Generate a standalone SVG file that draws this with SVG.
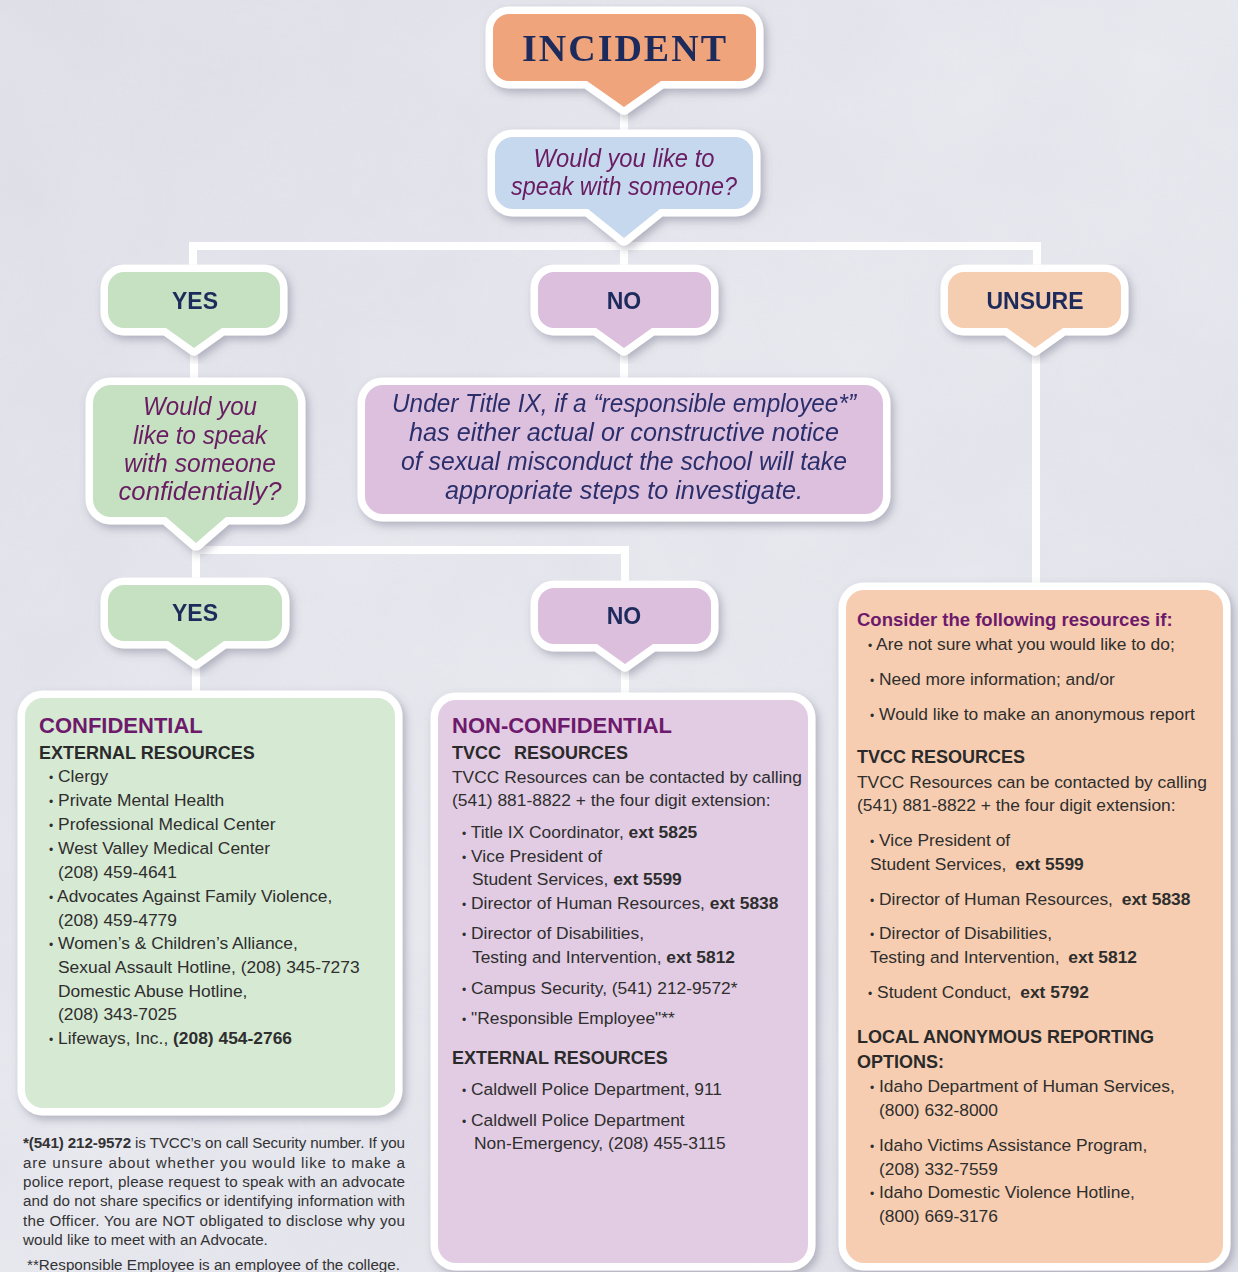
<svg xmlns="http://www.w3.org/2000/svg" width="1238" height="1272" viewBox="0 0 1238 1272">
<defs>
<style>
.lbl{font-family:"Liberation Sans",Arial,sans-serif;font-weight:bold;font-size:23px;fill:#1f2b5c;text-anchor:middle}
.inc{font-family:"Liberation Serif","Times New Roman",serif;font-weight:bold;font-size:38px;letter-spacing:2px;fill:#1f2b5c;text-anchor:middle}
.q{font-family:"Liberation Sans",Arial,sans-serif;font-style:italic;font-size:25px;fill:#6a1d62;text-anchor:middle}
.ti{font-family:"Liberation Sans",Arial,sans-serif;font-style:italic;font-size:25px;fill:#2c2f6b;text-anchor:middle}
.h1{font-family:"Liberation Sans",Arial,sans-serif;font-weight:bold;font-size:22px;fill:#6e1a6c}
.h1s{font-family:"Liberation Sans",Arial,sans-serif;font-weight:bold;font-size:18.5px;fill:#6e1a6c}
.h2{font-family:"Liberation Sans",Arial,sans-serif;font-weight:bold;font-size:18px;fill:#2a2a2a}
.t{font-family:"Liberation Sans",Arial,sans-serif;font-size:17.4px;fill:#2e2e2e}
.b{font-size:12px}
.bd{font-weight:bold}
.fn{font-family:"Liberation Sans",Arial,sans-serif;font-size:15.2px;fill:#333}
.bubble{stroke:#ffffff;stroke-width:15;stroke-linejoin:round;paint-order:stroke}
.conn{stroke:#ffffff;stroke-width:8;fill:none;stroke-linecap:butt}
</style>
<filter id="sh" x="-10%" y="-10%" width="125%" height="130%">
<feDropShadow dx="3" dy="4" stdDeviation="4" flood-color="#5e5e78" flood-opacity="0.4"/>
</filter>
<filter id="tex" x="0" y="0" width="100%" height="100%">
<feTurbulence type="fractalNoise" baseFrequency="0.008" numOctaves="4" seed="7"/>
<feColorMatrix values="0 0 0 0 0.62  0 0 0 0 0.62  0 0 0 0 0.7  0 0 0 0.5 -0.1"/>
</filter>
<linearGradient id="bg" x1="0" y1="0" x2="1" y2="1">
<stop offset="0" stop-color="#e1e1ea"/>
<stop offset="0.5" stop-color="#e9e9f0"/>
<stop offset="1" stop-color="#dfdfe8"/>
</linearGradient>
</defs>

<rect x="0" y="0" width="1238" height="1272" fill="url(#bg)"/>
<rect x="0" y="0" width="1238" height="1272" filter="url(#tex)" opacity="0.5"/>

<g id="connectors">
<line class="conn" x1="624" y1="98" x2="624" y2="140"/>
<line class="conn" x1="624" y1="230" x2="624" y2="246"/>
<line class="conn" x1="189" y1="246" x2="1041" y2="246"/>
<line class="conn" x1="193" y1="242" x2="193" y2="275"/>
<line class="conn" x1="624" y1="242" x2="624" y2="275"/>
<line class="conn" x1="1037" y1="242" x2="1037" y2="275"/>
<line class="conn" x1="194" y1="340" x2="194" y2="388"/>
<line class="conn" x1="624" y1="340" x2="624" y2="388"/>
<line class="conn" x1="1036" y1="340" x2="1036" y2="592"/>
<line class="conn" x1="196" y1="535" x2="196" y2="588"/>
<line class="conn" x1="192" y1="550" x2="629" y2="550"/>
<line class="conn" x1="625" y1="546" x2="625" y2="591"/>
<line class="conn" x1="196" y1="652" x2="196" y2="700"/>
<line class="conn" x1="625" y1="655" x2="625" y2="702"/>
</g>

<g id="incident" filter="url(#sh)">
<path class="bubble" fill="#f0a47c" d="M509,14 H740 A16,16 0 0 1 756,30 V65 A16,16 0 0 1 740,81 H661 L624,107 L587,81 H509 A16,16 0 0 1 493,65 V30 A16,16 0 0 1 509,14 Z"/>
<text class="inc" x="625" y="61">INCIDENT</text>
</g>

<g id="q-speak" filter="url(#sh)">
<path class="bubble" fill="#c6d8ee" d="M513,137 H735 A18,18 0 0 1 753,155 V191 A18,18 0 0 1 735,209 H660 L624,238 L588,209 H513 A18,18 0 0 1 495,191 V155 A18,18 0 0 1 513,137 Z"/>
<text class="q" x="624" y="167" textLength="181" lengthAdjust="spacingAndGlyphs">Would you like to</text>
<text class="q" x="624" y="195" textLength="226" lengthAdjust="spacingAndGlyphs">speak with someone?</text>
</g>

<g id="yes1" filter="url(#sh)">
<path class="bubble" fill="#c5e1c2" d="M124,272 H264 A16,16 0 0 1 280,288 V312 A16,16 0 0 1 264,328 H222 L194,348 L166,328 H124 A16,16 0 0 1 108,312 V288 A16,16 0 0 1 124,272 Z"/>
<text class="lbl" x="195" y="309">YES</text>
</g>

<g id="no1" filter="url(#sh)">
<path class="bubble" fill="#dcbfdd" d="M554,272 H695 A16,16 0 0 1 711,288 V312 A16,16 0 0 1 695,328 H652 L624,348 L596,328 H554 A16,16 0 0 1 538,312 V288 A16,16 0 0 1 554,272 Z"/>
<text class="lbl" x="624" y="309">NO</text>
</g>

<g id="unsure" filter="url(#sh)">
<path class="bubble" fill="#f5cdb0" d="M964,272 H1105 A16,16 0 0 1 1121,288 V312 A16,16 0 0 1 1105,328 H1063 L1035,348 L1007,328 H964 A16,16 0 0 1 948,312 V288 A16,16 0 0 1 964,272 Z"/>
<text class="lbl" x="1035" y="309">UNSURE</text>
</g>

<g id="q-confidential" filter="url(#sh)">
<path class="bubble" fill="#c5e1c2" d="M111,385 H280 A18,18 0 0 1 298,403 V499 A18,18 0 0 1 280,517 H226 L196,543 L166,517 H111 A18,18 0 0 1 93,499 V403 A18,18 0 0 1 111,385 Z"/>
<text class="q" x="200" y="415" textLength="114" lengthAdjust="spacingAndGlyphs">Would you</text>
<text class="q" x="200" y="444" textLength="134" lengthAdjust="spacingAndGlyphs">like to speak</text>
<text class="q" x="200" y="472" textLength="152" lengthAdjust="spacingAndGlyphs">with someone</text>
<text class="q" x="200" y="500" textLength="163" lengthAdjust="spacingAndGlyphs">confidentially?</text>
</g>

<g id="title-ix" filter="url(#sh)">
<rect class="bubble" fill="#dcc0dd" x="365" y="385" width="518" height="129" rx="18"/>
<text class="ti" x="624" y="412" textLength="464" lengthAdjust="spacingAndGlyphs">Under Title IX, if a “responsible employee*”</text>
<text class="ti" x="624" y="441" textLength="430" lengthAdjust="spacingAndGlyphs">has either actual or constructive notice</text>
<text class="ti" x="624" y="470" textLength="446" lengthAdjust="spacingAndGlyphs">of sexual misconduct the school will take</text>
<text class="ti" x="624" y="499" textLength="358" lengthAdjust="spacingAndGlyphs">appropriate steps to investigate.</text>
</g>

<g id="yes2" filter="url(#sh)">
<path class="bubble" fill="#c5e1c2" d="M124,585 H266 A16,16 0 0 1 282,601 V625 A16,16 0 0 1 266,641 H224 L196,661 L168,641 H124 A16,16 0 0 1 108,625 V601 A16,16 0 0 1 124,585 Z"/>
<text class="lbl" x="195" y="621">YES</text>
</g>

<g id="no2" filter="url(#sh)">
<path class="bubble" fill="#dcbfdd" d="M554,588 H695 A16,16 0 0 1 711,604 V628 A16,16 0 0 1 695,644 H653 L625,664 L597,644 H554 A16,16 0 0 1 538,628 V604 A16,16 0 0 1 554,588 Z"/>
<text class="lbl" x="624" y="624">NO</text>
</g>

<g id="confidential">
<rect class="bubble" fill="#d6e9d3" x="25" y="698" width="370" height="410" rx="18" filter="url(#sh)"/>
<text class="h1" x="39" y="733">CONFIDENTIAL</text>
<text class="h2" x="39" y="759">EXTERNAL RESOURCES</text>
<text class="t" x="49" y="782"><tspan class="b">•</tspan> Clergy</text>
<text class="t" x="49" y="806"><tspan class="b">•</tspan> Private Mental Health</text>
<text class="t" x="49" y="830"><tspan class="b">•</tspan> Professional Medical Center</text>
<text class="t" x="49" y="854"><tspan class="b">•</tspan> West Valley Medical Center</text>
<text class="t" x="58" y="878">(208) 459-4641</text>
<text class="t" x="49" y="902"><tspan class="b">•</tspan> Advocates Against Family Violence,</text>
<text class="t" x="58" y="926">(208) 459-4779</text>
<text class="t" x="49" y="949"><tspan class="b">•</tspan> Women’s &amp; Children’s Alliance,</text>
<text class="t" x="58" y="973">Sexual Assault Hotline, (208) 345-7273</text>
<text class="t" x="58" y="997">Domestic Abuse Hotline,</text>
<text class="t" x="58" y="1020">(208) 343-7025</text>
<text class="t" x="49" y="1044"><tspan class="b">•</tspan> Lifeways, Inc., <tspan class="bd">(208) 454-2766</tspan></text>
</g>

<g id="footnote">
<text class="fn" x="23" y="1148" textLength="382" lengthAdjust="spacing"><tspan class="bd">*(541) 212-9572</tspan> is TVCC’s on call Security number. If you</text>
<text class="fn" x="23" y="1168" textLength="382" lengthAdjust="spacing">are unsure about whether you would like to make a</text>
<text class="fn" x="23" y="1187" textLength="382" lengthAdjust="spacing">police report, please request to speak with an advocate</text>
<text class="fn" x="23" y="1206" textLength="382" lengthAdjust="spacing">and do not share specifics or identifying information with</text>
<text class="fn" x="23" y="1226" textLength="382" lengthAdjust="spacing">the Officer. You are NOT obligated to disclose why you</text>
<text class="fn" x="23" y="1245">would like to meet with an Advocate.</text>
<text class="fn" x="27" y="1270" textLength="373" lengthAdjust="spacing">**Responsible Employee is an employee of the college.</text>
</g>

<g id="non-confidential">
<rect class="bubble" fill="#e2cce3" x="438" y="700" width="370" height="563" rx="18" filter="url(#sh)"/>
<text class="h1" x="452" y="733">NON-CONFIDENTIAL</text>
<text class="h2" x="452" y="759">TVCC<tspan x="514">RESOURCES</tspan></text>
<text class="t" x="452" y="783">TVCC Resources can be contacted by calling</text>
<text class="t" x="452" y="806">(541) 881-8822 + the four digit extension:</text>
<text class="t" x="462" y="838"><tspan class="b">•</tspan> Title IX Coordinator, <tspan class="bd">ext 5825</tspan></text>
<text class="t" x="462" y="862"><tspan class="b">•</tspan> Vice President of</text>
<text class="t" x="472" y="885">Student Services, <tspan class="bd">ext 5599</tspan></text>
<text class="t" x="462" y="909"><tspan class="b">•</tspan> Director of Human Resources, <tspan class="bd">ext 5838</tspan></text>
<text class="t" x="462" y="939"><tspan class="b">•</tspan> Director of Disabilities,</text>
<text class="t" x="472" y="963">Testing and Intervention, <tspan class="bd">ext 5812</tspan></text>
<text class="t" x="462" y="994"><tspan class="b">•</tspan> Campus Security, (541) 212-9572*</text>
<text class="t" x="462" y="1024"><tspan class="b">•</tspan> "Responsible Employee"**</text>
<text class="h2" x="452" y="1064">EXTERNAL RESOURCES</text>
<text class="t" x="462" y="1095"><tspan class="b">•</tspan> Caldwell Police Department, 911</text>
<text class="t" x="462" y="1126"><tspan class="b">•</tspan> Caldwell Police Department</text>
<text class="t" x="474" y="1149">Non-Emergency, (208) 455-3115</text>
</g>

<g id="unsure-resources">
<rect class="bubble" fill="#f6cdb0" x="846" y="590" width="377" height="673" rx="18" filter="url(#sh)"/>
<text class="h1s" x="857" y="626">Consider the following resources if:</text>
<text class="t" x="868" y="650"><tspan class="b">•</tspan> Are not sure what you would like to do;</text>
<text class="t" x="870" y="685"><tspan class="b">•</tspan> Need more information; and/or</text>
<text class="t" x="870" y="720"><tspan class="b">•</tspan> Would like to make an anonymous report</text>
<text class="h2" x="857" y="763">TVCC RESOURCES</text>
<text class="t" x="857" y="788">TVCC Resources can be contacted by calling</text>
<text class="t" x="857" y="811">(541) 881-8822 + the four digit extension:</text>
<text class="t" x="870" y="846"><tspan class="b">•</tspan> Vice President of</text>
<text class="t" x="870" y="870">Student Services, <tspan class="bd" dx="4">ext 5599</tspan></text>
<text class="t" x="870" y="905"><tspan class="b">•</tspan> Director of Human Resources, <tspan class="bd" dx="4">ext 5838</tspan></text>
<text class="t" x="870" y="939"><tspan class="b">•</tspan> Director of Disabilities,</text>
<text class="t" x="870" y="963">Testing and Intervention, <tspan class="bd" dx="4">ext 5812</tspan></text>
<text class="t" x="868" y="998"><tspan class="b">•</tspan> Student Conduct, <tspan class="bd" dx="4">ext 5792</tspan></text>
<text class="h2" x="857" y="1043">LOCAL ANONYMOUS REPORTING</text>
<text class="h2" x="857" y="1068">OPTIONS:</text>
<text class="t" x="870" y="1092"><tspan class="b">•</tspan> Idaho Department of Human Services,</text>
<text class="t" x="879" y="1116">(800) 632-8000</text>
<text class="t" x="870" y="1151"><tspan class="b">•</tspan> Idaho Victims Assistance Program,</text>
<text class="t" x="879" y="1175">(208) 332-7559</text>
<text class="t" x="870" y="1198"><tspan class="b">•</tspan> Idaho Domestic Violence Hotline,</text>
<text class="t" x="879" y="1222">(800) 669-3176</text>
</g>
</svg>
